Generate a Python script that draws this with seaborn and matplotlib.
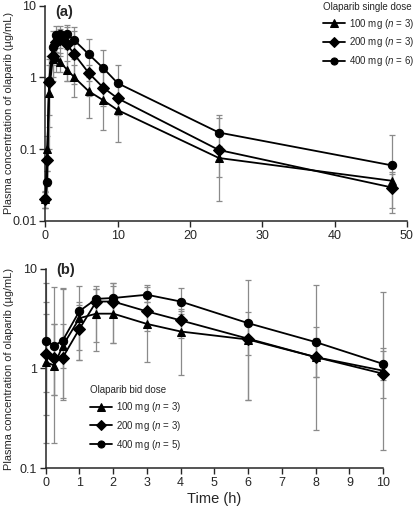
import matplotlib
matplotlib.use("Agg")
import numpy as np
import pandas as pd
import matplotlib.pyplot as plt
import seaborn as sns
from matplotlib.ticker import FixedLocator, NullLocator, FixedFormatter

sns.set_style("ticks")
plt.rcParams['font.family'] = ['Liberation Sans', 'DejaVu Sans']
plt.rcParams['mathtext.fontset'] = 'custom'
plt.rcParams['mathtext.it'] = 'Liberation Sans:italic'
plt.rcParams['mathtext.rm'] = 'Liberation Sans'

# ---- (a) single dose ----
time_a = [0, 0.25, 0.5, 1, 1.5, 2, 3, 4, 6, 8, 10, 24, 48]
a_100 = [0.02, 0.10, 0.6, 1.8, 1.9, 1.65, 1.28, 1.0, 0.64, 0.48, 0.35, 0.075, 0.036]
a_200 = [0.02, 0.07, 0.85, 2.0, 3.1, 3.4, 2.9, 2.1, 1.15, 0.72, 0.51, 0.097, 0.029]
a_400 = [0.02, 0.035, 0.9, 2.7, 3.9, 4.05, 4.05, 3.3, 2.1, 1.35, 0.83, 0.17, 0.059]
a_100_lo = [0.015, 0.05, 0.1, 0.9, 1.2, 1.2, 0.88, 0.53, 0.27, 0.186, 0.124, 0.041, 0.03]
a_100_hi = [0.025, 0.15, 1.5, 2.5, 2.6, 2.2, 1.7, 1.5, 1.0, 0.75, 0.5, 0.11, 0.045]
a_200_lo = [0.015, 0.03, 0.2, 1.0, 1.9, 2.0, 0.88, 0.8, 0.55, 0.4, 0.3, 0.0187, 0.0128]
a_200_hi = [0.025, 0.1, 1.8, 3.0, 4.5, 4.7, 5.1, 4.5, 1.5, 1.2, 0.9, 0.268, 0.048]
a_400_lo = [0.015, 0.02, 0.3, 1.5, 2.3, 2.6, 2.5, 1.8, 0.9, 0.75, 0.5, 0.07, 0.015]
a_400_hi = [0.026, 0.05, 2.0, 4.5, 5.3, 5.3, 5.4, 5.1, 3.4, 2.4, 1.5, 0.295, 0.158]

# ---- (b) bid dose ----
time_b = [0, 0.25, 0.5, 1, 1.5, 2, 3, 4, 6, 8, 10]
b_100 = [1.16, 1.07, 1.68, 3.2, 3.55, 3.55, 2.8, 2.35, 1.95, 1.30, 0.95]
b_200 = [1.4, 1.28, 1.28, 2.5, 4.7, 4.7, 3.74, 3.04, 1.99, 1.30, 0.885]
b_400 = [1.9, 1.69, 1.9, 3.77, 5.0, 5.1, 5.5, 4.7, 2.85, 1.84, 1.11]
b_100_lo = [0.58, 0.54, 0.48, 1.54, 1.84, 1.8, 1.16, 0.85, 0.48, 0.83, 0.5]
b_100_hi = [3.55, 2.8, 6.3, 4.3, 6.3, 6.8, 4.6, 3.8, 3.7, 2.6, 1.48]
b_200_lo = [0.18, 0.18, 0.5, 1.22, 1.49, 1.8, 2.4, 2.0, 0.48, 0.24, 0.153]
b_200_hi = [4.7, 6.6, 6.4, 4.6, 6.8, 7.2, 6.6, 4.0, 3.0, 2.0, 1.6]
b_400_lo = [0.34, 0.54, 1.0, 1.22, 3.2, 3.4, 4.6, 3.5, 1.35, 0.83, 0.76]
b_400_hi = [7.2, 2.8, 2.8, 6.7, 6.3, 7.2, 6.9, 6.45, 7.8, 6.9, 5.8]

doses_a = ["100 mg ($n$ = 3)", "200 mg ($n$ = 3)", "400 mg ($n$ = 6)"]
doses_b = ["100 mg ($n$ = 3)", "200 mg ($n$ = 3)", "400 mg ($n$ = 5)"]
markers = ["^", "D", "o"]


def make_df(times, series, labels):
    frames = []
    for vals, lab in zip(series, labels):
        frames.append(pd.DataFrame({"time": times, "conc": vals, "dose": lab}))
    return pd.concat(frames, ignore_index=True)


def draw_panel(ax, times, series, lows, highs, labels):
    df = make_df(times, series, labels)
    for vals, lo, hi in zip(series, lows, highs):
        v = np.array(vals)
        yerr = [v - np.array(lo), np.array(hi) - v]
        ax.errorbar(times, v, yerr=yerr, fmt="none", ecolor="#8a8a8a",
                    elinewidth=0.9, capsize=2.5, capthick=0.9, zorder=1,
                    clip_on=False)
    sns.lineplot(data=df, x="time", y="conc", hue="dose", style="dose",
                 markers=dict(zip(labels, markers)), dashes=False,
                 palette=["black"] * 3, markersize=6, markeredgecolor="black",
                 linewidth=1.3, ax=ax, zorder=3, legend=True)
    for line in ax.get_lines():
        line.set_clip_on(False)
    ax.set_yscale("log")
    sns.despine(ax=ax)
    ax.tick_params(axis="both", labelsize=9, length=4, width=1, direction="out",
                   pad=2.5)
    for s in ["left", "bottom"]:
        ax.spines[s].set_linewidth(1.1)
    ax.yaxis.set_minor_locator(NullLocator())
    ax.set_ylabel("Plasma concentration of olaparib (µg/mL)", fontsize=7.9)
    ax.set_xlabel("")


fig = plt.figure(figsize=(4.13, 5.08), dpi=100)
ax1 = fig.add_axes([0.110, 0.5656, 0.875, 0.423])
ax2 = fig.add_axes([0.1107, 0.0787, 0.817, 0.392])

# (a)
draw_panel(ax1, time_a, [a_100, a_200, a_400], [a_100_lo, a_200_lo, a_400_lo],
           [a_100_hi, a_200_hi, a_400_hi], doses_a)
ax1.set_xlim(0, 50)
ax1.set_ylim(0.01, 10)
ax1.set_xticks([0, 10, 20, 30, 40, 50])
ax1.yaxis.set_major_locator(FixedLocator([0.01, 0.1, 1, 10]))
ax1.yaxis.set_major_formatter(FixedFormatter(["0.01", "0.1", "1", "10"]))
ax1.yaxis.set_label_coords(-0.088, 0.5)
ax1.text(0.027, 1.005, "(a)", transform=ax1.transAxes, fontsize=10.5,
         fontweight="bold", va="top")
leg = ax1.legend(title="Olaparib single dose", loc="upper right",
                 bbox_to_anchor=(1.045, 1.06), frameon=False, fontsize=7,
                 title_fontsize=7, handlelength=2.3, labelspacing=0.5,
                 handletextpad=0.4, markerscale=0.85)
leg._legend_box.align = "left"

# (b)
draw_panel(ax2, time_b, [b_100, b_200, b_400], [b_100_lo, b_200_lo, b_400_lo],
           [b_100_hi, b_200_hi, b_400_hi], doses_b)
ax2.set_xlim(0, 10)
ax2.set_ylim(0.1, 10)
ax2.set_xticks(range(0, 11))
ax2.yaxis.set_major_locator(FixedLocator([0.1, 1, 10]))
ax2.yaxis.set_major_formatter(FixedFormatter(["0.1", "1", "10"]))
ax2.yaxis.set_label_coords(-0.094, 0.5)
ax2.set_xlabel("Time (h)", fontsize=10.5, labelpad=2)
ax2.text(0.03, 1.03, "(b)", transform=ax2.transAxes, fontsize=10.5,
         fontweight="bold", va="top")
leg2 = ax2.legend(title="Olaparib bid dose", loc="upper left",
                  bbox_to_anchor=(0.105, 0.46), frameon=False, fontsize=7,
                  title_fontsize=7, handlelength=2.3, labelspacing=0.5,
                  handletextpad=0.4, markerscale=0.85)
leg2._legend_box.align = "left"

fig.savefig("out.png", dpi=100)
